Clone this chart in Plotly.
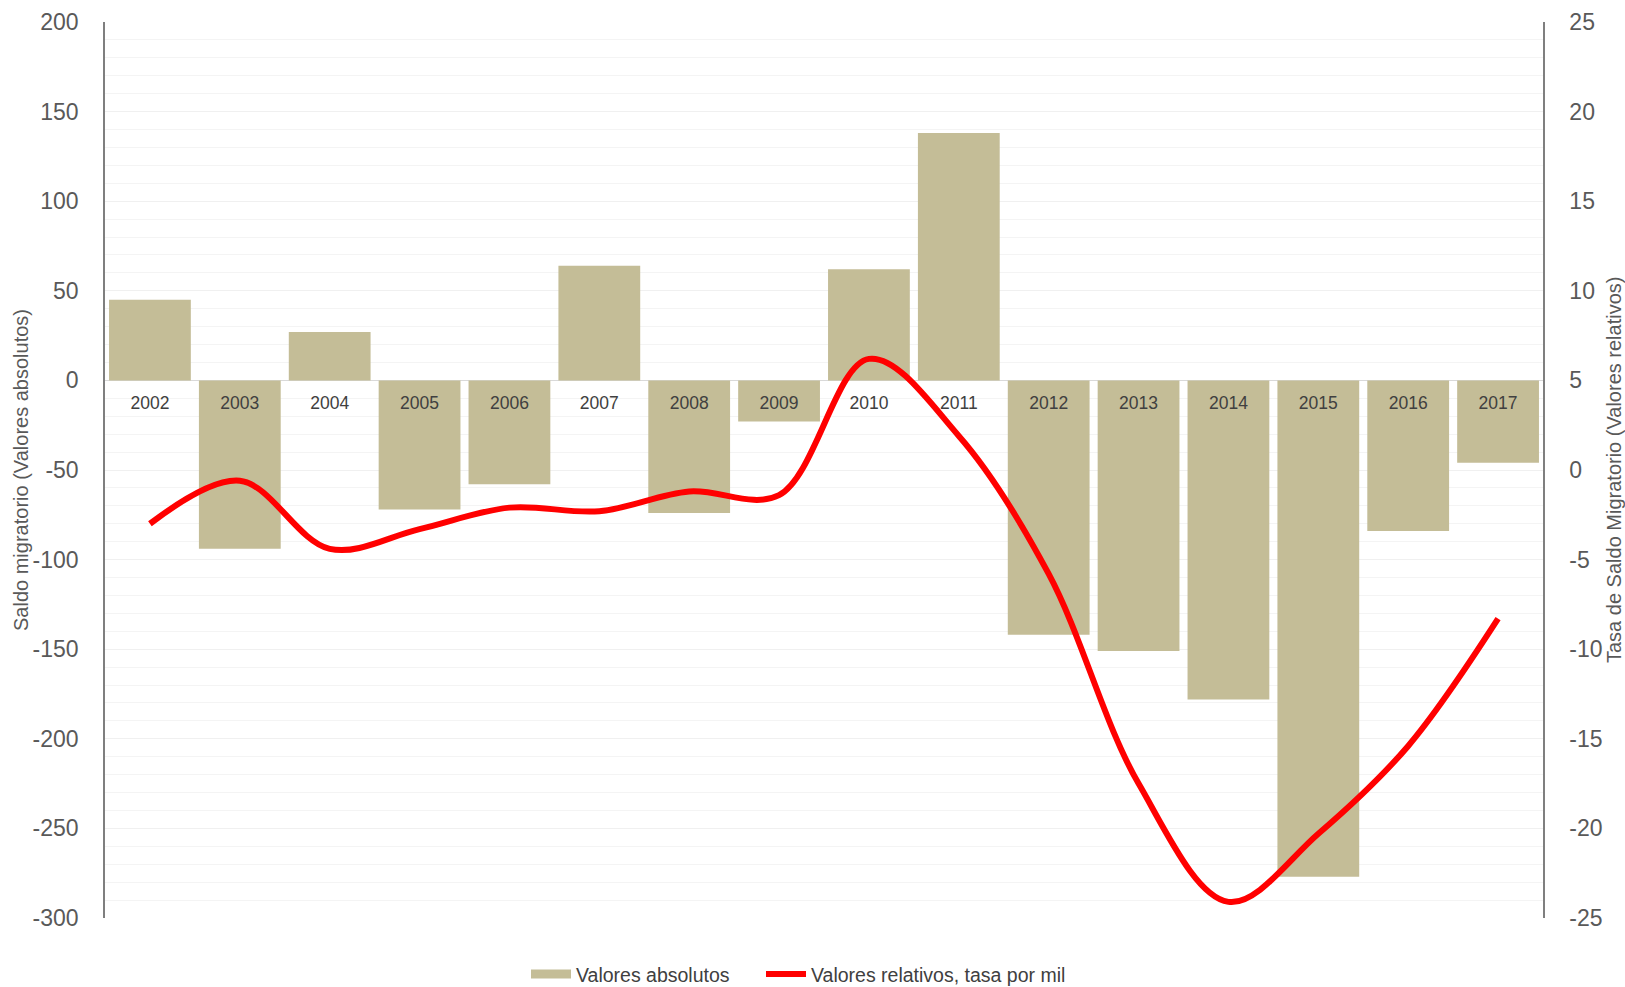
import plotly.graph_objects as go

years = ["2002", "2003", "2004", "2005", "2006", "2007", "2008", "2009",
         "2010", "2011", "2012", "2013", "2014", "2015", "2016", "2017"]
absolute_values = [45, -94, 27, -72, -58, 64, -74, -23, 62, 138, -142, -151, -178, -277, -84, -46]
relative_rate = [-3.0, -0.6, -4.4, -3.3, -2.1, -2.3, -1.2, -1.4, 6.2, 1.9, -5.8, -17.5, -24.1, -20.3, -15.4, -8.3]

left_ticks = [200, 150, 100, 50, 0, -50, -100, -150, -200, -250, -300]
right_ticks = [25, 20, 15, 10, 5, 0, -5, -10, -15, -20, -25]

FONT = "Liberation Sans, Arial, sans-serif"
W, H = 1625, 987
ml, mr, mt, mb = 105, 82, 22, 69
BAR_COLOR = "#c4bd97"

fig = go.Figure()
fig.add_trace(go.Bar(
    x=years, y=absolute_values, name="Valores absolutos",
    marker=dict(color=BAR_COLOR, line=dict(width=0)),
    yaxis="y", xaxis="x", showlegend=False,
))
# legend-only entry giving the bar series a wide rectangular key
fig.add_trace(go.Scatter(
    x=[None], y=[None], name="Valores absolutos", mode="lines",
    line=dict(color=BAR_COLOR, width=9), yaxis="y", xaxis="x", legend="legend",
))
fig.add_trace(go.Scatter(
    x=years, y=relative_rate, name="Valores relativos, tasa por mil",
    mode="lines", line=dict(color="#ff0000", width=6, shape="spline", smoothing=1.0),
    yaxis="y2", xaxis="x", legend="legend2",
))

ymin, ymax = -300, 200
plot_w = W - ml - mr
legend_common = dict(orientation="h", y=-0.063, yanchor="middle", xanchor="left",
                     font=dict(size=19.5, color="#404040", family=FONT), itemwidth=40,
                     bgcolor="rgba(0,0,0,0)")
fig.update_layout(
    width=W, height=H,
    margin=dict(l=ml, r=mr, t=mt, b=mb, pad=0, autoexpand=False),
    paper_bgcolor="white", plot_bgcolor="white",
    bargap=0.09,
    font=dict(family=FONT, color="#595959"),
    showlegend=True,
    legend=dict(x=(526 - ml) / plot_w, **legend_common),
    legend2=dict(x=(761 - ml) / plot_w, **legend_common),
    xaxis=dict(
        type="category", anchor="free", position=(0 - ymin) / (ymax - ymin),
        showline=False, ticks="", showgrid=False, automargin=False,
        ticklabelstandoff=10,
        tickfont=dict(size=17.5, color="#404040", family=FONT),
        range=[-0.5, 15.5], fixedrange=True,
    ),
    yaxis=dict(
        range=[ymin, ymax], tickvals=left_ticks, ticktext=[str(v) for v in left_ticks],
        showline=True, linecolor="#7f7f7f", linewidth=1.5, automargin=False,
        showgrid=True, gridcolor="#f0f0f0", gridwidth=1,
        minor=dict(dtick=10, showgrid=True, gridcolor="#f4f4f4", gridwidth=1),
        zeroline=True, zerolinecolor="#d9d9d9", zerolinewidth=1,
        ticks="", ticklabelstandoff=20,
        tickfont=dict(size=23, color="#595959", family=FONT),
    ),
    yaxis2=dict(
        range=[-25, 25], tickvals=right_ticks, ticktext=[str(v) for v in right_ticks],
        overlaying="y", side="right", automargin=False,
        showline=True, linecolor="#7f7f7f", linewidth=1.5,
        showgrid=False, zeroline=False,
        ticks="", ticklabelstandoff=20,
        tickfont=dict(size=23, color="#595959", family=FONT),
    ),
    annotations=[
        dict(text="Saldo migratorio (Valores absolutos)", xref="paper", yref="paper",
             x=0, y=0.5, xshift=-84, textangle=-90, showarrow=False,
             xanchor="center", yanchor="middle",
             font=dict(size=20, color="#595959", family=FONT)),
        dict(text="Tasa de Saldo Migratorio (Valores relativos)", xref="paper", yref="paper",
             x=1, y=0.5, xshift=71, textangle=-90, showarrow=False,
             xanchor="center", yanchor="middle",
             font=dict(size=20, color="#595959", family=FONT)),
    ],
)

fig.write_html("out.html", config={"displayModeBar": False},
               post_script="document.body.style.margin='0';")
